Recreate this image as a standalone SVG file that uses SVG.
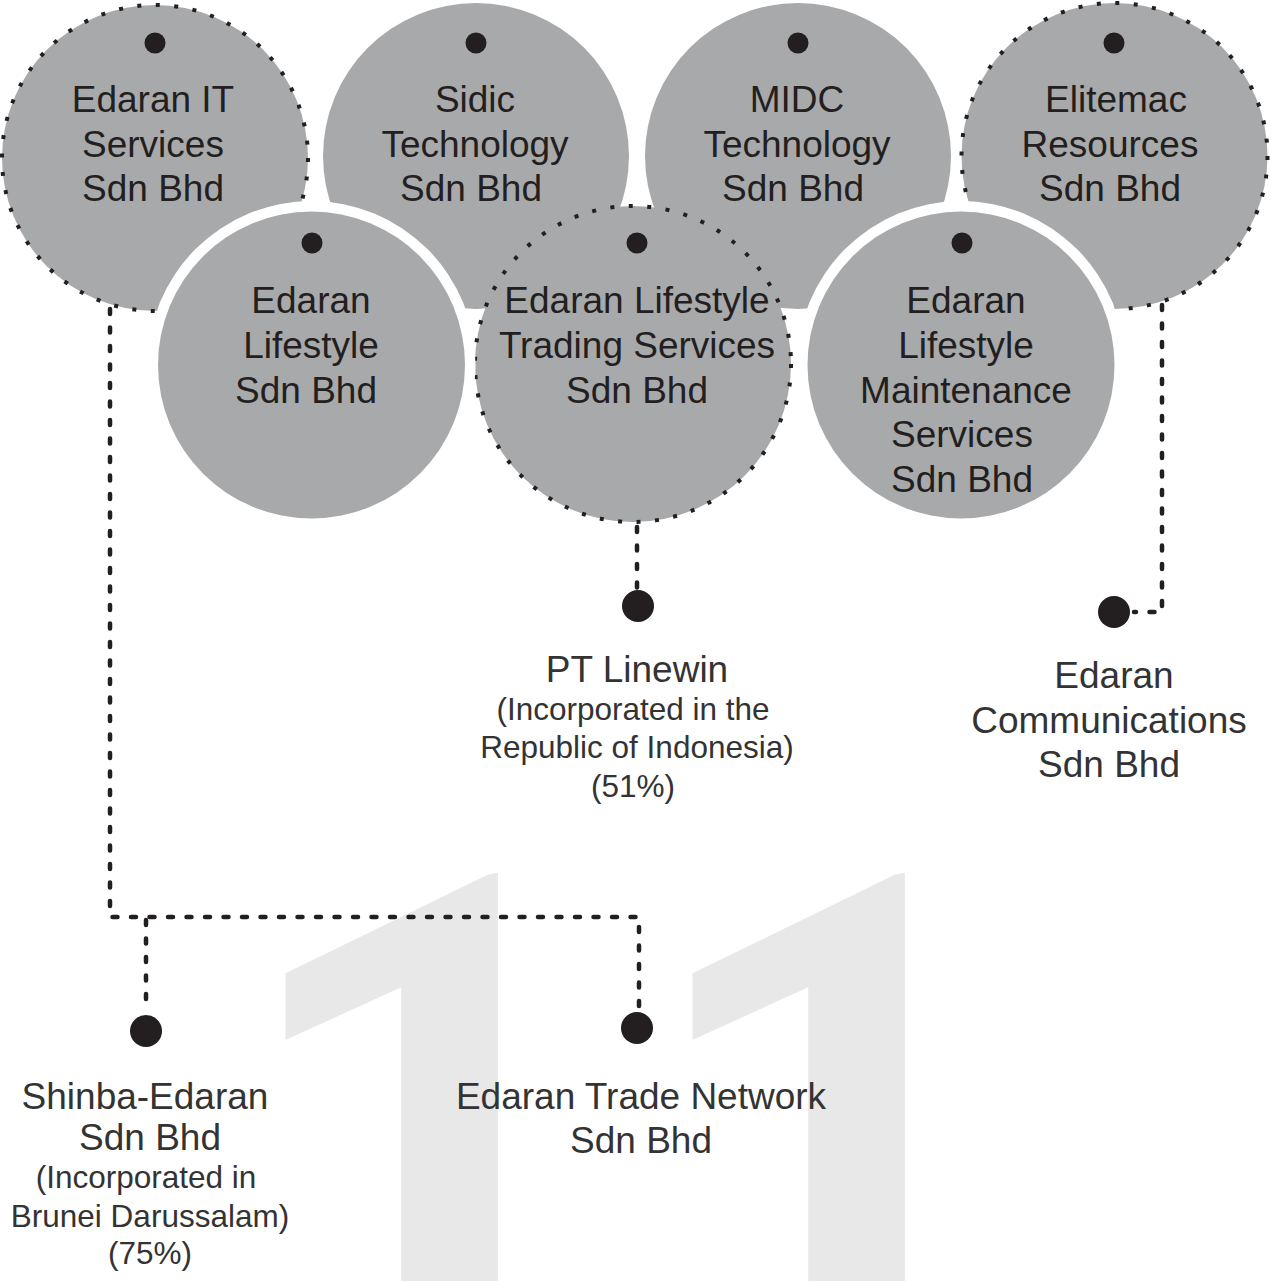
<svg xmlns="http://www.w3.org/2000/svg" width="1271" height="1281" viewBox="0 0 1271 1281">
<style>
.bg{fill:#ffffff}
.wm{fill:#e8e8e8;font-family:Roboto,"Noto Sans",sans-serif;font-size:600px;font-weight:700}
.c{fill:#a8a9ab}
.ring{fill:#ffffff}
.dotb{fill:none;stroke:#231f20;stroke-width:4;stroke-dasharray:4 14.5}
.pin{fill:#231f20}
.lbl{font-family:"Liberation Sans",Arial,sans-serif;font-size:37px;fill:#231f20;text-anchor:middle}
.out{font-family:"Liberation Sans",Arial,sans-serif;font-size:37px;fill:#333333;text-anchor:middle}
.sm{font-size:31.5px}
.con{fill:none;stroke:#231f20;stroke-width:4.5;stroke-linecap:round;stroke-dasharray:5 13.5}
</style>
<rect class="bg" x="0" y="0" width="1271" height="1281"/>
<g id="watermark">
<text class="wm" transform="translate(229,1348) skewY(-10.1) scale(1.145,1)" x="0" y="0">1</text>
<text class="wm" transform="translate(636,1348) skewY(-10.1) scale(1.145,1)" x="0" y="0">1</text>
</g>
<g id="n-edaran-it">
<circle class="c" cx="155" cy="158" r="153"/>
<circle class="dotb" cx="155" cy="158" r="153"/>
<circle class="pin" cx="155" cy="43" r="10.5"/>
<text class="lbl"><tspan x="153" y="112">Edaran IT</tspan><tspan x="153" y="157">Services</tspan><tspan x="153" y="201">Sdn Bhd</tspan></text>
</g>
<g id="n-sidic">
<circle class="c" cx="476" cy="156" r="153"/>
<circle class="pin" cx="476" cy="43" r="10.5"/>
<text class="lbl"><tspan x="475" y="112">Sidic</tspan><tspan x="475" y="157">Technology</tspan><tspan x="471" y="201">Sdn Bhd</tspan></text>
</g>
<g id="n-midc">
<circle class="c" cx="798" cy="156" r="153"/>
<circle class="pin" cx="798" cy="43" r="10.5"/>
<text class="lbl"><tspan x="797" y="112">MIDC</tspan><tspan x="797" y="157">Technology</tspan><tspan x="793" y="201">Sdn Bhd</tspan></text>
</g>
<g id="n-elitemac">
<circle class="c" cx="1114.5" cy="156" r="153"/>
<circle class="dotb" cx="1114.5" cy="156" r="153"/>
<circle class="pin" cx="1114" cy="43" r="10.5"/>
<text class="lbl"><tspan x="1116" y="112">Elitemac</tspan><tspan x="1110" y="157">Resources</tspan><tspan x="1110" y="201">Sdn Bhd</tspan></text>
</g>
<g id="n-lifestyle-trading">
<circle class="c" cx="633" cy="364" r="158"/>
<circle class="dotb" cx="633" cy="364" r="158"/>
<circle class="pin" cx="637" cy="243" r="10.5"/>
<text class="lbl"><tspan x="637" y="313">Edaran Lifestyle</tspan><tspan x="637" y="358">Trading Services</tspan><tspan x="637" y="403">Sdn Bhd</tspan></text>
</g>
<g id="n-lifestyle">
<circle class="ring" cx="311.5" cy="365" r="164"/>
<circle class="c" cx="311.5" cy="365" r="153.5"/>
<circle class="pin" cx="312" cy="243" r="10.5"/>
<text class="lbl"><tspan x="311" y="313">Edaran</tspan><tspan x="311" y="358">Lifestyle</tspan><tspan x="306" y="403">Sdn Bhd</tspan></text>
</g>
<g id="n-lifestyle-maintenance">
<circle class="ring" cx="961" cy="365" r="164"/>
<circle class="c" cx="961" cy="365" r="153.5"/>
<circle class="pin" cx="962" cy="243" r="10.5"/>
<text class="lbl"><tspan x="966" y="313">Edaran</tspan><tspan x="966" y="358">Lifestyle</tspan><tspan x="966" y="403">Maintenance</tspan><tspan x="962" y="447">Services</tspan><tspan x="962" y="492">Sdn Bhd</tspan></text>
</g>
<g id="connectors">
<path class="con" d="M110,309 V917 H639 V1006"/>
<path class="con" d="M146,920 V1010"/>
<path class="con" d="M637,527 V588"/>
<path class="con" d="M1162,305 V612 H1134"/>
</g>
<g id="n-pt-linewin">
<circle class="pin" cx="638" cy="606" r="16"/>
<text class="out"><tspan x="637" y="682">PT Linewin</tspan><tspan class="sm" x="633" y="720">(Incorporated in the</tspan><tspan class="sm" x="637" y="758">Republic of Indonesia)</tspan><tspan class="sm" x="633" y="797">(51%)</tspan></text>
</g>
<g id="n-edaran-comm">
<circle class="pin" cx="1114" cy="612" r="16"/>
<text class="out"><tspan x="1114" y="688">Edaran</tspan><tspan x="1109" y="733">Communications</tspan><tspan x="1109" y="777">Sdn Bhd</tspan></text>
</g>
<g id="n-shinba">
<circle class="pin" cx="146" cy="1031" r="16"/>
<text class="out"><tspan x="145" y="1109">Shinba-Edaran</tspan><tspan x="150" y="1150">Sdn Bhd</tspan><tspan class="sm" x="146" y="1188">(Incorporated in</tspan><tspan class="sm" x="150" y="1227">Brunei Darussalam)</tspan><tspan class="sm" x="150" y="1264">(75%)</tspan></text>
</g>
<g id="n-trade-network">
<circle class="pin" cx="637" cy="1028" r="16"/>
<text class="out"><tspan x="641" y="1109">Edaran Trade Network</tspan><tspan x="641" y="1153">Sdn Bhd</tspan></text>
</g>
</svg>
